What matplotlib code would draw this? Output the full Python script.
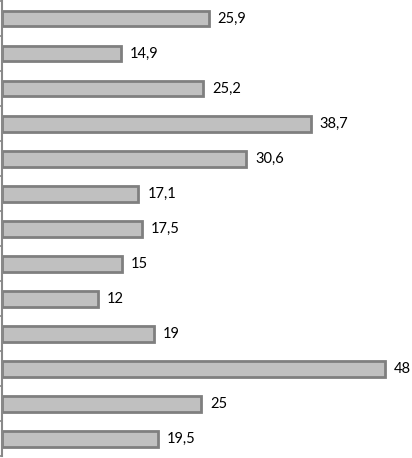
import matplotlib.pyplot as plt

values = [25.9, 14.9, 25.2, 38.7, 30.6, 17.1, 17.5, 15, 12, 19, 48, 25, 19.5]
labels = ["25,9", "14,9", "25,2", "38,7", "30,6", "17,1", "17,5", "15", "12", "19", "48", "25", "19,5"]

fig = plt.figure(figsize=(4.12, 4.58), dpi=100)
ax = fig.add_axes([0.005, 0.0033, 0.995, 0.9945])

pos = list(range(len(values)))
ax.barh(pos, values, height=0.45, color="#c0c0c0", edgecolor="#7f7f7f", linewidth=2)

for p, v, lab in zip(pos, values, labels):
    ax.annotate(lab, (v, p), xytext=(6.5, 0), textcoords="offset points",
                va="center", ha="left", fontsize=10.5, family="Lato", color="#000000")

ax.set_xlim(0, 51.4)
ax.set_ylim(len(values) - 0.5, -0.5)

for s in ["top", "right", "bottom"]:
    ax.spines[s].set_visible(False)
ax.spines["left"].set_color("#888888")
ax.spines["left"].set_linewidth(1.5)
ax.set_xticks([])
ax.set_yticks([p - 0.5 for p in pos] + [len(values) - 0.5])
ax.set_yticklabels([])
ax.tick_params(axis="y", length=3, width=1.2, color="#888888", direction="out")

fig.savefig("out.png", dpi=100)
